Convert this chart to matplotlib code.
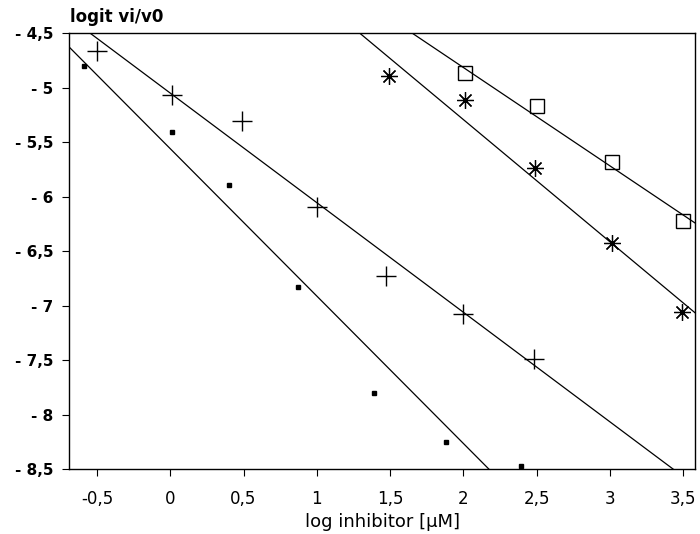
import numpy as np
import matplotlib.pyplot as plt

plt.rcParams['font.family'] = ['DejaVu Sans']

# ── Podaci ────────────────────────────────────────────────
# serija 1: mali puni kvadrati
x_kv = [-0.59, 0.01, 0.40, 0.87, 1.39, 1.88, 2.39]
y_kv = [-4.80, -5.41, -5.89, -6.83, -7.80, -8.25, -8.47]
# serija 2: plus
x_pl = [-0.50, 0.01, 0.49, 1.00, 1.47, 2.00, 2.48]
y_pl = [-4.66, -5.07, -5.31, -6.10, -6.73, -7.08, -7.49]
# serija 3: zvezdice
x_zv = [1.49, 2.01, 2.49, 3.01, 3.49]
y_zv = [-4.89, -5.11, -5.74, -6.43, -7.06]
# serija 4: prazni kvadrati
x_pk = [2.01, 2.50, 3.01, 3.50]
y_pk = [-4.87, -5.17, -5.68, -6.22]

# regresione prave: (nagib, odsecak)
prave = [(-1.353, -5.56), (-1.006, -5.05), (-1.122, -3.05), (-0.903, -3.01)]

x_ticks = [-0.5, 0, 0.5, 1, 1.5, 2, 2.5, 3, 3.5]
y_ticks = [-4.5, -5, -5.5, -6, -6.5, -7, -7.5, -8, -8.5]


def zarez(v):
    return f'{v:g}'.replace('.', ',')


fig = plt.figure(figsize=(7, 5.34), dpi=100)
ax = fig.add_axes([0.0986, 0.1217, 0.8944, 0.8163])

xx = np.linspace(-0.7, 3.6, 50)
for k, n in prave:
    ax.plot(xx, k * xx + n, color='black', lw=0.9)

ax.plot(x_kv, y_kv, ls='none', marker='s', ms=3, color='black')
ax.plot(x_pl, y_pl, ls='none', marker='+', ms=14, mew=1.0, color='black')
ax.plot(x_zv, y_zv, ls='none', marker=(8, 2, 0), ms=12, mew=0.9, color='black')
ax.plot(x_pk, y_pk, ls='none', marker='s', ms=10, mfc='none', mew=1.0, color='black')

ax.set_xlim(-0.69, 3.58)
ax.set_ylim(-8.5, -4.5)
ax.set_xticks(x_ticks)
ax.set_xticklabels([zarez(v) for v in x_ticks], fontsize=12)
ax.set_yticks(y_ticks)
ax.set_yticklabels([zarez(v).replace('-', '- ') for v in y_ticks],
                   fontsize=11, fontweight='bold')
ax.tick_params(axis='x', direction='out', length=5, width=0.8, pad=10)
ax.tick_params(axis='y', direction='out', length=5, width=0.8, pad=6)
for s in ax.spines.values():
    s.set_linewidth(1.0)

ax.set_xlabel('log inhibitor [µM]', fontsize=13, labelpad=4)
fig.text(0.1, 0.968, 'logit vi/v0', fontsize=12, fontweight='bold', va='center')

plt.savefig('out.png', dpi=100)
